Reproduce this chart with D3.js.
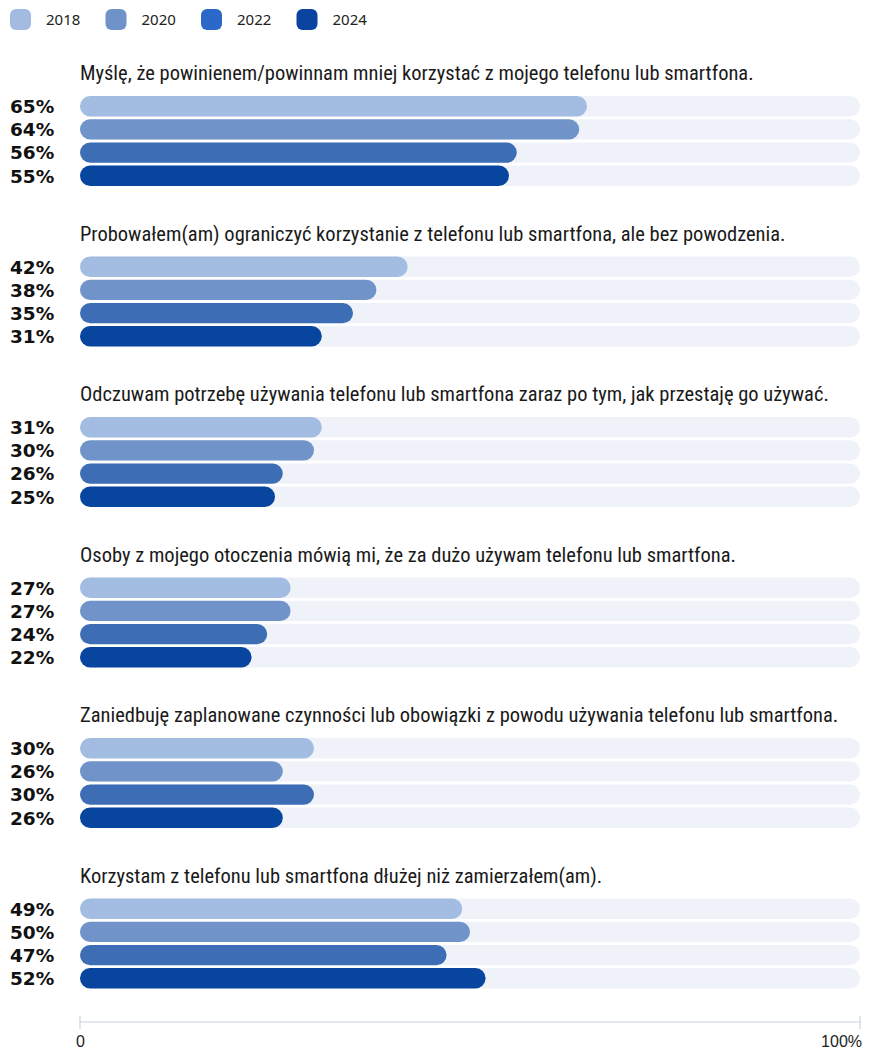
<!DOCTYPE html>
<html><head><meta charset="utf-8">
<script src="https://cdn.jsdelivr.net/npm/d3@7"></script>
<style>
html,body{margin:0;padding:0;background:#fff;}
svg{display:block;}
</style></head>
<body>
<svg id="chart" width="870" height="1050"></svg>
<script>
const years = ["2018", "2020", "2022", "2024"];
const questions = [
  "Myślę, że powinienem/powinnam mniej korzystać z mojego telefonu lub smartfona.",
  "Probowałem(am) ograniczyć korzystanie z telefonu lub smartfona, ale bez powodzenia.",
  "Odczuwam potrzebę używania telefonu lub smartfona zaraz po tym, jak przestaję go używać.",
  "Osoby z mojego otoczenia mówią mi, że za dużo używam telefonu lub smartfona.",
  "Zaniedbuję zaplanowane czynności lub obowiązki z powodu używania telefonu lub smartfona.",
  "Korzystam z telefonu lub smartfona dłużej niż zamierzałem(am)."
];
const values2018 = [65, 42, 31, 27, 30, 49];
const values2020 = [64, 38, 30, 27, 26, 50];
const values2022 = [56, 35, 26, 24, 30, 47];
const values2024 = [55, 31, 25, 22, 26, 52];
const axisTicks = [0, 100];

const seriesValues = [values2018, values2020, values2022, values2024];
const barColors = ["#a3bce1", "#7094ca", "#3d6eb5", "#08459f"];
const legendColors = ["#a3bbe0", "#6f93c9", "#2b68c9", "#0a44a0"];

const svg = d3.select("#chart");
const x = d3.scaleLinear().domain([0, 100]).range([80, 860]);
const groupY = d3.scaleLinear().domain([0, questions.length - 1]).range([96, 96 + 160.5 * 5]);
const barY = d3.scaleBand().domain(years).range([0, 90]).paddingInner(0.12).paddingOuter(0);
const bh = barY.bandwidth();

// Legend
const lg = svg.append("g");
years.forEach((yr, i) => {
  const g = lg.append("g").attr("transform", `translate(${10 + i * 95.5},9)`);
  g.append("rect").attr("width", 21).attr("height", 21).attr("rx", 6).attr("fill", legendColors[i]);
  g.append("text").attr("x", 36).attr("y", 15.5)
    .attr("font-family", "'Noto Sans', sans-serif").attr("font-size", 15)
    .attr("fill", "#222").text(yr);
});

// Groups
questions.forEach((q, qi) => {
  const g = svg.append("g").attr("transform", `translate(0,${groupY(qi)})`);
  g.append("text").attr("x", 80).attr("y", -16)
    .attr("font-family", "'Liberation Sans Narrow', 'Roboto Condensed', 'Liberation Sans', sans-serif")
    .attr("font-stretch", "condensed")
    .attr("font-size", 20.5).attr("fill", "#1a1a1a").text(q);
  years.forEach((yr, yi) => {
    const v = seriesValues[yi][qi];
    const yy = barY(yr);
    g.append("rect").attr("x", x(0)).attr("y", yy).attr("width", x(100) - x(0)).attr("height", bh)
      .attr("rx", bh / 2).attr("fill", "#eff2f8");
    g.append("rect").attr("x", x(0)).attr("y", yy).attr("width", x(v) - x(0)).attr("height", bh)
      .attr("rx", bh / 2).attr("fill", barColors[yi]);
    g.append("text").attr("x", 10).attr("y", yy + bh / 2).attr("dy", "0.37em")
      .attr("font-family", "'DejaVu Sans', sans-serif").attr("font-weight", "bold")
      .attr("font-size", 18.5).attr("fill", "#111").text(v + "%");
  });
});

// Axis
const axisG = svg.append("g").attr("transform", "translate(0,1022)");
axisG.append("line").attr("x1", x(0)).attr("x2", x(100)).attr("stroke", "#c9d3e4").attr("stroke-width", 1.2);
axisTicks.forEach((t, i) => {
  axisG.append("line").attr("x1", x(t)).attr("x2", x(t)).attr("y1", -6).attr("y2", 7)
    .attr("stroke", "#c9d3e4").attr("stroke-width", 1.2);
  axisG.append("text").attr("x", x(t) + (i === 0 ? -4 : 2)).attr("y", 25)
    .attr("text-anchor", i === 0 ? "start" : "end")
    .attr("font-family", "'Liberation Sans Narrow', 'Liberation Sans', sans-serif")
    .attr("font-stretch", "condensed")
    .attr("font-size", 16).attr("fill", "#222").text(t === 0 ? "0" : t + "%");
});
</script>
</body></html>
